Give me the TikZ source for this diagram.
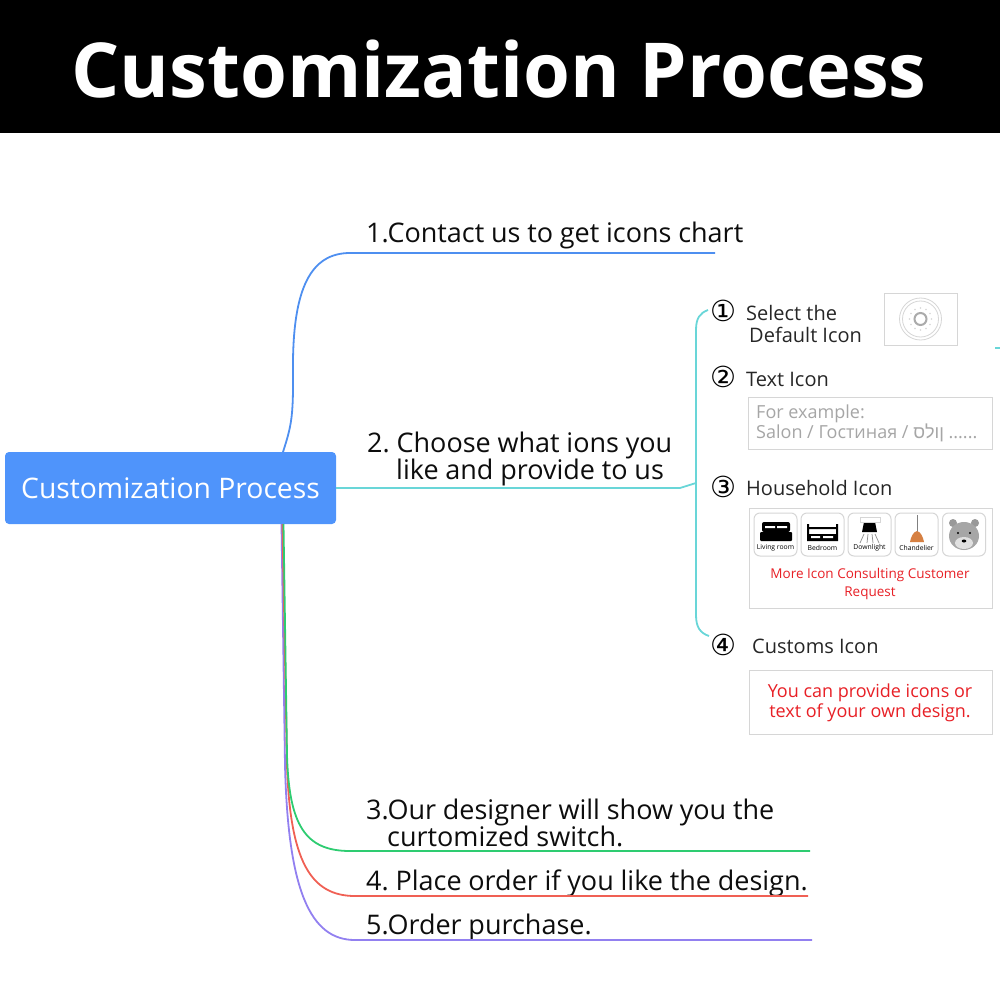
\documentclass[tikz,border=0pt]{standalone}
\usepackage{fontspec}
\usepackage{xcolor}
\usetikzlibrary{positioning,calc}
\setmainfont{Open Sans}
\newfontfamily\circfont{DejaVu Sans}
\newfontfamily\hebfont[Script=Hebrew]{Liberation Sans}
\definecolor{rootblue}{RGB}{79,148,251}
\definecolor{lineblue}{RGB}{78,143,240}
\definecolor{lineteal}{RGB}{105,214,216}
\definecolor{linegreen}{RGB}{46,204,113}
\definecolor{linered}{RGB}{240,96,84}
\definecolor{linepurple}{RGB}{146,128,240}
\definecolor{boxgray}{RGB}{214,214,214}
\definecolor{tipred}{RGB}{232,32,38}
\definecolor{lampcopper}{RGB}{214,128,66}

\begin{document}
\begin{tikzpicture}[
      x=1pt,y=-1pt,
      root/.style={draw=none,fill=rootblue,rounded corners=4pt,minimum width=331pt,minimum height=72pt,text=white,font=\fontsize{28.3}{32}\selectfont,inner sep=0pt},
      steptext/.style={anchor=west,inner sep=0pt,align=left,text=black!95,font=\fontsize{27}{27}\selectfont,execute at begin node={\spaceskip=0.25em\relax\xspaceskip=0.25em\relax}},
      subtext/.style={anchor=west,inner sep=0pt,align=left,text=black!85,font=\fontsize{20}{23}\selectfont},
      num/.style={anchor=center,inner sep=0pt,font=\circfont\fontsize{29}{29}\selectfont},
      panel/.style={draw=boxgray,line width=1pt,fill=white,inner sep=0pt},
      tile/.style={draw=boxgray,line width=1pt,rounded corners=6pt,fill=white,minimum width=43pt,minimum height=43pt,inner sep=0pt},
      tiny/.style={inner sep=0pt,font=\fontsize{6.8}{7}\selectfont},
      conn/.style={line width=1.8pt}
    ]
    \useasboundingbox (0,0) rectangle (1000,1000);
    \fill[black] (0,0) rectangle (1000,133);
    \node[inner sep=0pt,text=white,font=\fontsize{75.8}{80}\selectfont\bfseries] (title) at (499,69) {Customization Process};

    \node[root] (root) at (170.5,488) {Customization Process};

    % main branches
    \node[steptext] (one) at (366,235) {1.Contact us to get icons chart};
    \node[steptext] (two) at (367,459) {2. Choose what ions you\\[0pt]\hspace*{29pt}like and provide to us};
    \node[steptext] (three) at (366,823) {3.Our designer will show you the\\[0pt]\hspace*{21pt}curtomized switch.};
    \node[steptext] (four) at (366,883) {4. Place order if you like the design.};
    \node[steptext] (five) at (366,927) {5.Order purchase.};

    \coordinate (oneend) at (715,253);
    \coordinate (twoend) at (680,488);
    \coordinate (threeend) at (810,851);
    \coordinate (fourend) at (808,896);
    \coordinate (fiveend) at (812,940);
    \coordinate (bracket) at (696,483);
    \coordinate (numone) at (708,310);
    \coordinate (numfour) at (709,636);
    \coordinate (stray) at (995,348);

    \draw[conn,lineblue] (283,452) .. controls (290,430) and (293,420) .. (293,385) -- (293,360) .. controls (294,290) and (310,253) .. (350,253) -- (oneend);
    \draw[conn,lineteal] (root.east) -- (twoend) -- (bracket);
    \draw[conn,lineteal] (bracket) -- (696,330) .. controls (696,318) and (700,313) .. (numone);
    \draw[conn,lineteal] (bracket) -- (696,615) .. controls (696,627) and (700,633) .. (numfour);
    \draw[conn,lineteal] (stray) -- ++(5,0);
    \draw[conn,linepurple] (281.5,524) -- (285,765) .. controls (288,890) and (310,940) .. (355,940) -- (fiveend);
    \draw[conn,linered] (282.5,524) -- (287,765) .. controls (290,860) and (310,896) .. (355,896) -- (fourend);
    \draw[conn,linegreen] (283.5,524) -- (287,755) .. controls (289,825) and (305,851) .. (350,851) -- (threeend);

    % sub items
    \node[num] (a) at (723,311) {①};
    \node[num] (b) at (723,377) {②};
    \node[num] (c) at (723,487) {③};
    \node[num] (d) at (723,645) {④};
    \node[subtext] (atext) at (746,324) {Select the\\[-1pt]\hspace*{3pt}Default Icon};
    \node[subtext] (btext) at (746,379) {Text Icon};
    \node[subtext] (ctext) at (746,488) {Household Icon};
    \node[subtext] (dtext) at (752,646) {Customs Icon};

    % default icon
    \node[panel,minimum width=73pt,minimum height=52pt] (defbox) at (920.5,319) {};
    \draw[boxgray,line width=0.8pt] (defbox.center) circle (21pt) circle (18pt);
    \draw[boxgray!80!black,line width=2pt] (defbox.center) circle (6pt);
    \foreach \a in {0,30,...,330}
      \fill[boxgray] ($(defbox.center)+(\a:11pt)$) circle (0.8pt);

    % text icon
    \node[panel,minimum width=244pt,minimum height=52pt] (textbox) at (870,423) {};
    \node[anchor=west,inner sep=0pt,align=left,text=black!35,font=\fontsize{18}{20}\selectfont] (texttip) at (756,423) {For example:\\Salon / Гостиная / {\hebfont ס\kern0pt ל\kern0pt ו\kern0pt ן} ......};

    % household icons
    \node[panel,minimum width=243pt,minimum height=100pt] (homebox) at (870.5,558) {};
    \node[tile] (living) at (775.5,534.5) {};
    \node[tile] (bedroom) at (822.5,534.5) {};
    \node[tile] (downlight) at (869.5,534.5) {};
    \node[tile] (chandelier) at (916.5,534.5) {};
    \node[tile] (bear) at (964,534.5) {};
    \node[tiny] at (775.5,547.5) {Living room};
    \node[tiny] at (822.5,547.5) {Bedroom};
    \node[tiny] at (869.5,547.5) {Downlight};
    \node[tiny] at (916.5,547.5) {Chandelier};

    \fill[black,rounded corners=1pt] (760,532) rectangle (792,541);
    \fill[black,rounded corners=2pt] (762,522) rectangle (790,532);
    \fill[white] (765,526) rectangle (775,528) (777,526) rectangle (787,528);
    \fill[black] (807,524) rectangle (809,541) (836,524) rectangle (838,541) (809,534) rectangle (836,541) (809,527) rectangle (836,529);
    \fill[white] (811,536) rectangle (820,538) (823,536) rectangle (833,538);
    \fill[black] (864,522) -- (875,522) -- (877,532) -- (862,532) -- cycle;
    \draw[boxgray,line width=0.7pt] (860,517) rectangle (880,522);
    \draw[black!45,line width=0.7pt] (864,534) -- (860,543) (868,534) -- (867,543) (872,534) -- (873,543) (875,534) -- (879,543);
    \draw[black!50,line width=0.7pt] (917,515) -- (917,532);
    \fill[lampcopper] (917,531) .. controls (913,532) and (911,537) .. (910,542) -- (924,542) .. controls (923,537) and (921,532) .. (917,531) -- cycle;
    \fill[black!40] (953,523) circle (4pt) (975,523) circle (4pt);
    \fill[black!35] (964,536) ellipse (15pt and 14pt);
    \fill[black!12] (964,543) ellipse (9pt and 6pt);
    \fill[black] (958,533) circle (1.1pt) (970,533) circle (1.1pt) (964,541) ellipse (2.3pt and 1.5pt);
    \node[inner sep=0pt,align=center,text=tipred,font=\fontsize{13.5}{18}\selectfont] (hometip) at (870,584) {More Icon Consulting Customer\\Request};

    % customs icon
    \node[panel,minimum width=243pt,minimum height=64pt] (custbox) at (870.5,702) {};
    \node[inner sep=0pt,align=center,text=tipred,font=\fontsize{18}{20}\selectfont] (custtip) at (870,703) {You can provide icons or\\text of your own design.};
  \end{tikzpicture}
\end{document}
